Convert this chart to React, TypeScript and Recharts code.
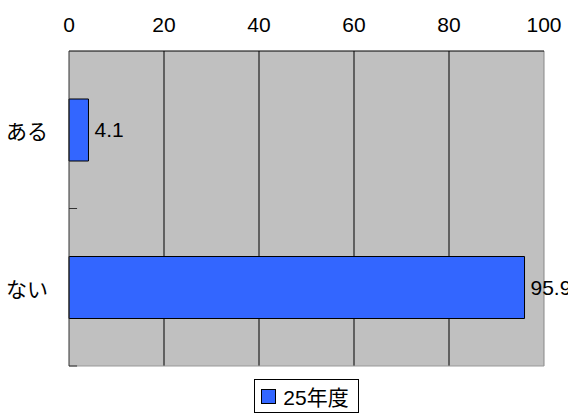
import React from "react";
import {
  BarChart,
  Bar,
  XAxis,
  YAxis,
  CartesianGrid,
  Legend,
  LabelList,
  ReferenceLine,
} from "recharts";

const categories = ["ある", "ない"];
const values = [4.1, 95.9];
const seriesName = "25年度";
const xTicks = [0, 20, 40, 60, 80, 100];
const innerGrid = [20, 40, 60, 80];

const data = categories.map((c, i) => ({ category: c, value: values[i] }));

const FONT = "'Liberation Sans', Arial, 'Noto Sans CJK JP', sans-serif";
const BLUE = "#3366FF";
const FS = 21;
// inward tick length on the category axis, in value units (about 8px)
const TICK_LEN = 1.7;

function LegendBox() {
  return (
    <div style={{ paddingLeft: 69, textAlign: "center", fontFamily: FONT }}>
      <div
        style={{
          display: "inline-flex",
          alignItems: "center",
          border: "1px solid #000",
          height: 32,
          padding: "0 9px 0 6px",
          fontSize: FS,
          color: "#000",
          background: "#fff",
        }}
      >
        <span
          style={{
            display: "inline-block",
            width: 13,
            height: 13,
            background: BLUE,
            border: "1px solid #000",
            marginRight: 7,
          }}
        />
        {seriesName}
      </div>
    </div>
  );
}

export default function App() {
  const last = categories[categories.length - 1];
  return (
    <div style={{ position: "absolute", left: 0, top: 0, fontFamily: FONT }}>
      <BarChart
        width={568}
        height={415}
        data={data}
        layout="vertical"
        margin={{ top: 21, right: 24, left: 0, bottom: 2 }}
      >
        <CartesianGrid
          horizontal={false}
          vertical={true}
          verticalValues={innerGrid}
          stroke="#000"
          fill="#C0C0C0"
          fillOpacity={1}
        />
        <XAxis
          type="number"
          orientation="top"
          domain={[0, 100]}
          ticks={xTicks}
          height={30}
          tickSize={0}
          tickMargin={19}
          tickLine={false}
          axisLine={{ stroke: "#000" }}
          tick={{ fill: "#000", fontSize: FS, fontFamily: FONT }}
        />
        <YAxis
          type="category"
          dataKey="category"
          width={69}
          tickSize={0}
          tickMargin={21}
          tickLine={false}
          axisLine={{ stroke: "#333" }}
          tick={{ fill: "#000", fontSize: FS, fontFamily: FONT, dy: 2 }}
        />
        <ReferenceLine x={100} stroke="#888" />
        <ReferenceLine y={last} position="end" stroke="#999" />
        {categories.slice(1).map((c) => (
          <ReferenceLine
            key={c}
            position="start"
            segment={[
              { x: 0, y: c },
              { x: TICK_LEN, y: c },
            ]}
            stroke="#333"
          />
        ))}
        <ReferenceLine
          position="end"
          segment={[
            { x: 0, y: last },
            { x: TICK_LEN, y: last },
          ]}
          stroke="#333"
        />
        <Bar
          dataKey="value"
          name={seriesName}
          fill={BLUE}
          stroke="#000"
          strokeWidth={1}
          barSize={62}
          isAnimationActive={false}
        >
          <LabelList
            dataKey="value"
            position="right"
            offset={6}
            fill="#000"
            fontSize={FS}
            fontFamily={FONT}
          />
        </Bar>
        <Legend
          verticalAlign="bottom"
          wrapperStyle={{ paddingTop: 13 }}
          content={() => <LegendBox />}
        />
      </BarChart>
    </div>
  );
}
